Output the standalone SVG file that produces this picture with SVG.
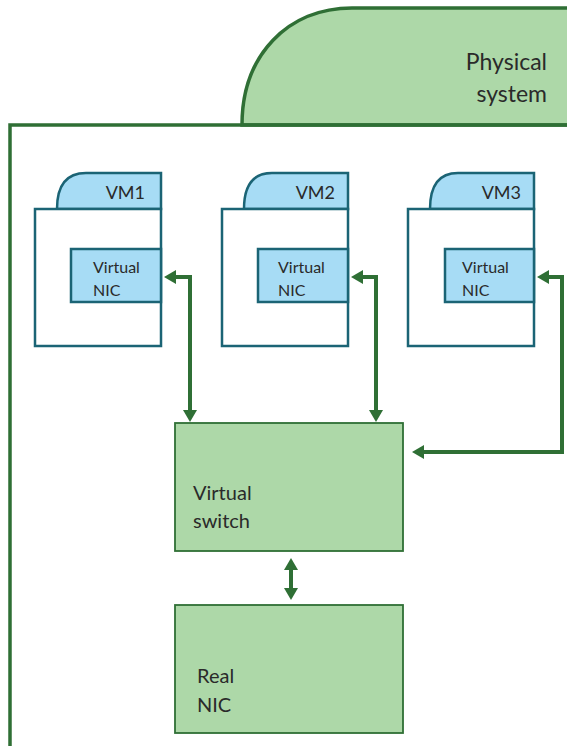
<svg xmlns="http://www.w3.org/2000/svg" width="567" height="746" viewBox="0 0 567 746">
<style>
.txt{font-family:Lato,"Open Sans","Liberation Sans",sans-serif;fill:#2a2a2a;}
.tab{fill:#a7dcf5;stroke:#1b6475;stroke-width:2.5;}
.vm{fill:#fff;stroke:#1b6475;stroke-width:2.5;}
.nic{fill:#a7dcf5;stroke:#1b6475;stroke-width:2.5;}
.gbox{fill:#add8a8;stroke:#2f6f35;stroke-width:1.8;}
.conn{fill:none;stroke:#2f6f35;stroke-width:4;}
</style>
<defs>
<marker id="ah" viewBox="0 0 12 14" refX="5" refY="7" markerWidth="12" markerHeight="14" orient="auto-start-reverse" markerUnits="userSpaceOnUse">
<path d="M0,0 L12,7 L0,14 Z" fill="#2f6f35"/>
</marker>
</defs>
<rect width="567" height="746" fill="#fff"/>
<g id="physical-system">
<path d="M242,125 C242,55 288,8 352,8 L570,8 L570,125 Z" fill="#add8a8" stroke="#2f6f35" stroke-width="3.5"/>
<path d="M10,750 L10,125 L570,125" fill="none" stroke="#2f6f35" stroke-width="3.5"/>
<text class="txt" x="547" y="70" font-size="23" text-anchor="end">Physical</text>
<text class="txt" x="547" y="102" font-size="23" text-anchor="end">system</text>
</g>
<g id="vm1">
<path class="tab" d="M57,209 C57,186 66,173 86,173 L161,173 L161,209 Z"/>
<rect class="vm" x="35" y="209" width="126" height="137"/>
<rect class="nic" x="71" y="249" width="90" height="53"/>
<text class="txt" x="145" y="199" font-size="18" text-anchor="end">VM1</text>
<text class="txt" x="93" y="273" font-size="16">Virtual</text>
<text class="txt" x="93" y="296" font-size="16">NIC</text>
</g>
<g id="vm2">
<path class="tab" d="M244,209 C244,186 253,173 272,173 L348,173 L348,209 Z"/>
<rect class="vm" x="222" y="209" width="126" height="137"/>
<rect class="nic" x="258" y="249" width="90" height="53"/>
<text class="txt" x="335" y="199" font-size="18" text-anchor="end">VM2</text>
<text class="txt" x="278" y="273" font-size="16">Virtual</text>
<text class="txt" x="278" y="296" font-size="16">NIC</text>
</g>
<g id="vm3">
<path class="tab" d="M430,209 C430,186 439,173 458,173 L534,173 L534,209 Z"/>
<rect class="vm" x="408" y="209" width="126" height="137"/>
<rect class="nic" x="445" y="249" width="89" height="53"/>
<text class="txt" x="521" y="199" font-size="18" text-anchor="end">VM3</text>
<text class="txt" x="462" y="273" font-size="16">Virtual</text>
<text class="txt" x="462" y="296" font-size="16">NIC</text>
</g>
<g id="virtual-switch">
<rect class="gbox" x="175" y="423" width="228" height="128"/>
<text class="txt" x="193" y="500" font-size="20">Virtual</text>
<text class="txt" x="193" y="528" font-size="20">switch</text>
</g>
<g id="real-nic">
<rect class="gbox" x="175" y="605" width="228" height="128"/>
<text class="txt" x="197" y="683" font-size="20">Real</text>
<text class="txt" x="197" y="712" font-size="20">NIC</text>
</g>
<g id="connectors">
<path class="conn" d="M171,277 L190,277 L190,415" marker-start="url(#ah)" marker-end="url(#ah)"/>
<path class="conn" d="M358,277 L376,277 L376,415" marker-start="url(#ah)" marker-end="url(#ah)"/>
<path class="conn" d="M544,277 L562,277 L562,452 L419,452" marker-start="url(#ah)" marker-end="url(#ah)"/>
<path class="conn" d="M291,565 L291,593" marker-start="url(#ah)" marker-end="url(#ah)"/>
</g>
</svg>
